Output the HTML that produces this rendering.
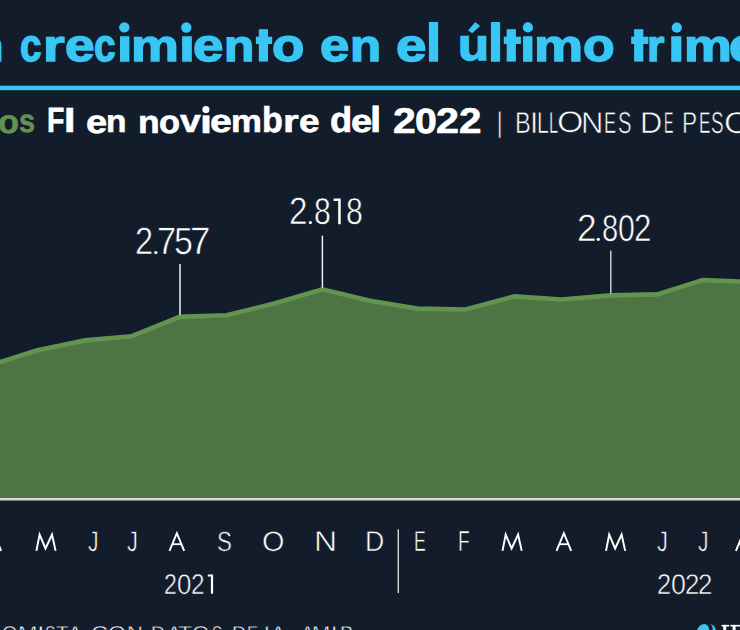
<!DOCTYPE html>
<html><head><meta charset="utf-8">
<style>
html,body{margin:0;padding:0;width:740px;height:630px;overflow:hidden;background:#121c2a;}
body{position:relative;font-family:"Liberation Sans",sans-serif;color:#fff;}
.a{position:absolute;white-space:nowrap;line-height:1;transform-origin:0 0;font-weight:400;text-rendering:geometricPrecision;}
svg{position:absolute;left:0;top:0;}
</style></head><body>
<svg width="740" height="630" viewBox="0 0 740 630">
<polygon fill="#4f7444" points="-11,365.6 36.5,350.5 85.1,340.4 131.8,336.2 179.7,316.9 226.5,315.3 275,303.3 322.3,289.3 370,300.8 417.3,308.6 465.3,309.5 514.3,296.4 561.6,299.5 610.7,295.4 657.3,294.4 702.7,280.1 750,281.8 750,498 -11,498"/>
<polyline fill="none" stroke="#62934f" stroke-width="4.6" stroke-linejoin="miter" points="-11,365.6 36.5,350.5 85.1,340.4 131.8,336.2 179.7,316.9 226.5,315.3 275,303.3 322.3,289.3 370,300.8 417.3,308.6 465.3,309.5 514.3,296.4 561.6,299.5 610.7,295.4 657.3,294.4 702.7,280.1 750,281.8"/>
<rect x="0" y="498" width="740" height="2.5" fill="#d9ddd9"/>
<rect x="0" y="85.7" width="740" height="4.5" fill="#38c6f4"/>
<rect x="179" y="264" width="2" height="51" fill="#b6bbc1"/>
<rect x="321.7" y="235.7" width="1.4" height="52" fill="#f6f6f6"/>
<rect x="610.1" y="250.6" width="1.4" height="43" fill="#d8d8d8"/>
<rect x="397.6" y="529.3" width="1.4" height="63.7" fill="#d8d8d8"/>
<circle cx="155.85" cy="252.6" r="1.65" fill="#fff"/>
<circle cx="310.4" cy="222.6" r="1.65" fill="#fff"/>
<circle cx="598.3" cy="239.3" r="1.65" fill="#fff"/>
<path d="M333.6,198.4 H340.7 V224.2 H338.2 V200.9 H333.6 Z" fill="#fff"/>
<path d="M207.8,574.5 H213.1 V593.8 H210.9 V576.6 H207.8 Z" fill="#fff"/>
<ellipse cx="702.8" cy="631.3" rx="5.8" ry="7.6" transform="rotate(30 702.8 631.3)" fill="#38c6f4"/>
<path d="M710.2,623.8 C714.3,625.3 716.2,628.3 715.6,631 L712.4,631 C713,628.3 712.4,625.6 710.2,623.8 Z" fill="#38c6f4"/>
<rect x="721.6" y="624.9" width="7.6" height="1.6" fill="#fff"/>
<rect x="723.2" y="624.9" width="3" height="6" fill="#fff"/>
<rect x="730.4" y="624.9" width="10" height="1.6" fill="#fff"/>
<rect x="732.6" y="624.9" width="3" height="6" fill="#fff"/>
<circle cx="124.3" cy="27.4" r="5.2" fill="#38c6f4"/>
<circle cx="186.3" cy="27.45" r="5.2" fill="#38c6f4"/>
<circle cx="527.9" cy="27.45" r="5.1" fill="#38c6f4"/>
<circle cx="676.8" cy="27.7" r="5.1" fill="#38c6f4"/>
<polygon points="468.1,30.4 475.2,22.05 480.1,25.9 472.2,33.2" fill="#38c6f4"/>
<circle cx="205.9" cy="109.6" r="3.55" fill="#fff"/>
<polyline fill="none" stroke="#fff" stroke-width="1.95" stroke-miterlimit="10" points="36.4,550.9 39.6,534.6 45.5,548.5 52.0,534.6 55.6,550.9"/>
<polyline fill="none" stroke="#fff" stroke-width="1.95" stroke-miterlimit="10" points="502.5,550.9 505.7,534.6 511.6,548.5 518.1,534.6 521.7,550.9"/>
<polyline fill="none" stroke="#fff" stroke-width="1.95" stroke-miterlimit="10" points="606.0,550.9 609.2,534.6 615.1,548.5 621.6,534.6 625.2,550.9"/>
<polyline fill="none" stroke="#fff" stroke-width="1.95" stroke-miterlimit="10" points="-13.50,550.90 -6.15,533.20 1.20,550.90"/>
<rect x="-10.70" y="543.3" width="9.1" height="1.8" fill="#fff"/>
<polyline fill="none" stroke="#fff" stroke-width="1.95" stroke-miterlimit="10" points="169.50,550.90 176.85,533.20 184.20,550.90"/>
<rect x="172.30" y="543.3" width="9.1" height="1.8" fill="#fff"/>
<polyline fill="none" stroke="#fff" stroke-width="1.95" stroke-miterlimit="10" points="556.50,550.90 563.85,533.20 571.20,550.90"/>
<rect x="559.30" y="543.3" width="9.1" height="1.8" fill="#fff"/>
<polyline fill="none" stroke="#fff" stroke-width="1.95" stroke-miterlimit="10" points="735.90,550.90 743.25,533.20 750.60,550.90"/>
<rect x="738.70" y="543.3" width="9.1" height="1.8" fill="#fff"/>
<rect x="258.8" y="29.2" width="9.2" height="32.4" fill="#38c6f4"/>
<rect x="255.9" y="36.7" width="16.3" height="7.3" fill="#38c6f4"/>
<rect x="506.7" y="29.2" width="9.2" height="32.4" fill="#38c6f4"/>
<rect x="503.8" y="36.7" width="17.1" height="7.3" fill="#38c6f4"/>
<rect x="634.1" y="29.2" width="9.2" height="32.4" fill="#38c6f4"/>
<rect x="631.2" y="36.7" width="17.1" height="7.3" fill="#38c6f4"/>
</svg>
<div class="a" id="t0" style="left:-26.79px;top:22.60px;font-size:47px;font-weight:700;color:#38c6f4;transform:scale(1.0698,0.9453);-webkit-text-stroke:1.5px #38c6f4;">n</div>
<div class="a" id="t1" style="left:20.42px;top:21.53px;font-size:47px;font-weight:700;color:#38c6f4;transform:scale(0.8189,0.9761);-webkit-text-stroke:1.5px #38c6f4;">c</div>
<div class="a" id="t2" style="left:42.67px;top:22.70px;font-size:47px;font-weight:700;color:#38c6f4;transform:scale(1.1867,0.9495);-webkit-text-stroke:1.5px #38c6f4;">r</div>
<div class="a" id="t3" style="left:64.66px;top:21.64px;font-size:47px;font-weight:700;color:#38c6f4;transform:scale(1.1323,0.9746);-webkit-text-stroke:1.5px #38c6f4;">e</div>
<div class="a" id="t4" style="left:94.46px;top:21.59px;font-size:47px;font-weight:700;color:#38c6f4;transform:scale(0.8244,0.9763);-webkit-text-stroke:1.5px #38c6f4;">c</div>
<div class="a" id="t5" style="left:116.63px;top:21.59px;font-size:47px;font-weight:700;color:#38c6f4;transform:scale(1.1777,0.9640);-webkit-text-stroke:1.5px #38c6f4;">ı</div>
<div class="a" id="t6" style="left:131.08px;top:22.77px;font-size:47px;font-weight:700;color:#38c6f4;transform:scale(1.1442,0.9496);-webkit-text-stroke:1.5px #38c6f4;">m</div>
<div class="a" id="t7" style="left:178.58px;top:21.78px;font-size:47px;font-weight:700;color:#38c6f4;transform:scale(1.2167,0.9649);-webkit-text-stroke:1.5px #38c6f4;">ı</div>
<div class="a" id="t8" style="left:192.85px;top:21.51px;font-size:47px;font-weight:700;color:#38c6f4;transform:scale(1.1614,0.9756);-webkit-text-stroke:1.5px #38c6f4;">e</div>
<div class="a" id="t9" style="left:224.19px;top:22.93px;font-size:47px;font-weight:700;color:#38c6f4;transform:scale(1.0539,0.9419);-webkit-text-stroke:1.5px #38c6f4;">n</div>
<div class="a" id="t11" style="left:272.26px;top:21.72px;font-size:47px;font-weight:700;color:#38c6f4;transform:scale(1.1251,0.9757);-webkit-text-stroke:1.5px #38c6f4;">o</div>
<div class="a" id="t12" style="left:319.79px;top:21.74px;font-size:47px;font-weight:700;color:#38c6f4;transform:scale(1.1196,0.9736);-webkit-text-stroke:1.5px #38c6f4;">e</div>
<div class="a" id="t13" style="left:349.81px;top:22.59px;font-size:47px;font-weight:700;color:#38c6f4;transform:scale(1.0854,0.9455);-webkit-text-stroke:1.5px #38c6f4;">n</div>
<div class="a" id="t14" style="left:396.38px;top:21.79px;font-size:47px;font-weight:700;color:#38c6f4;transform:scale(1.1620,0.9707);-webkit-text-stroke:1.5px #38c6f4;">e</div>
<div class="a" id="t15" style="left:426.13px;top:15.88px;font-size:47px;font-weight:700;color:#38c6f4;transform:scale(1.1533,1.1182);-webkit-text-stroke:1.5px #38c6f4;">l</div>
<div class="a" id="t16" style="left:457.74px;top:21.78px;font-size:47px;font-weight:700;color:#38c6f4;transform:scale(1.0807,0.9475);-webkit-text-stroke:1.5px #38c6f4;">u</div>
<div class="a" id="t17" style="left:487.99px;top:15.88px;font-size:47px;font-weight:700;color:#38c6f4;transform:scale(1.1549,1.1182);-webkit-text-stroke:1.5px #38c6f4;">l</div>
<div class="a" id="t19" style="left:520.02px;top:22.02px;font-size:47px;font-weight:700;color:#38c6f4;transform:scale(1.1784,0.9668);-webkit-text-stroke:1.5px #38c6f4;">ı</div>
<div class="a" id="t20" style="left:534.40px;top:22.63px;font-size:47px;font-weight:700;color:#38c6f4;transform:scale(1.1739,0.9476);-webkit-text-stroke:1.5px #38c6f4;">m</div>
<div class="a" id="t21" style="left:583.41px;top:21.51px;font-size:47px;font-weight:700;color:#38c6f4;transform:scale(1.1009,0.9771);-webkit-text-stroke:1.5px #38c6f4;">o</div>
<div class="a" id="t23" style="left:647.47px;top:22.51px;font-size:47px;font-weight:700;color:#38c6f4;transform:scale(0.9500,0.9473);-webkit-text-stroke:1.5px #38c6f4;">r</div>
<div class="a" id="t24" style="left:668.08px;top:21.78px;font-size:47px;font-weight:700;color:#38c6f4;transform:scale(1.2652,0.9649);-webkit-text-stroke:1.5px #38c6f4;">ı</div>
<div class="a" id="t25" style="left:684.02px;top:22.82px;font-size:47px;font-weight:700;color:#38c6f4;transform:scale(1.1440,0.9482);-webkit-text-stroke:1.5px #38c6f4;">m</div>
<div class="a" id="t26" style="left:729.43px;top:21.59px;font-size:47px;font-weight:700;color:#38c6f4;transform:scale(1.1436,0.9751);-webkit-text-stroke:1.5px #38c6f4;">e</div>
<div class="a" id="s0" style="left:-1.94px;top:105.58px;font-size:34px;font-weight:700;color:#62934f;transform:scale(1.0114,0.9627);-webkit-text-stroke:0.6px #62934f;">o</div>
<div class="a" id="s1" style="left:19.47px;top:105.41px;font-size:34px;font-weight:700;color:#62934f;transform:scale(0.8489,0.9571);-webkit-text-stroke:0.6px #62934f;">s</div>
<div class="a" id="s2" style="left:46.71px;top:103.44px;font-size:34px;font-weight:700;transform:scale(0.8371,1.0314);-webkit-text-stroke:0.6px #fff;">F</div>
<div class="a" id="s3" style="left:63.77px;top:103.49px;font-size:34px;font-weight:700;transform:scale(1.2190,1.0289);-webkit-text-stroke:0.6px #fff;">I</div>
<div class="a" id="s4" style="left:85.68px;top:105.65px;font-size:34px;font-weight:700;transform:scale(1.1203,0.9523);-webkit-text-stroke:0.6px #fff;">e</div>
<div class="a" id="s5" style="left:105.76px;top:106.45px;font-size:34px;font-weight:700;transform:scale(0.9854,0.9312);-webkit-text-stroke:0.6px #fff;">n</div>
<div class="a" id="s6" style="left:138.01px;top:106.57px;font-size:34px;font-weight:700;transform:scale(1.0423,0.9384);-webkit-text-stroke:0.6px #fff;">n</div>
<div class="a" id="s7" style="left:159.43px;top:106.07px;font-size:34px;font-weight:700;transform:scale(1.0120,0.9499);-webkit-text-stroke:0.6px #fff;">o</div>
<div class="a" id="s8" style="left:180.40px;top:105.60px;font-size:34px;font-weight:700;transform:scale(1.0978,0.9458);-webkit-text-stroke:0.6px #fff;">v</div>
<div class="a" id="s9" style="left:199.69px;top:106.18px;font-size:34px;font-weight:700;transform:scale(1.2704,0.9599);-webkit-text-stroke:0.6px #fff;">ı</div>
<div class="a" id="s10" style="left:209.98px;top:105.48px;font-size:34px;font-weight:700;transform:scale(1.1529,0.9475);-webkit-text-stroke:0.6px #fff;">e</div>
<div class="a" id="s11" style="left:230.96px;top:106.08px;font-size:34px;font-weight:700;transform:scale(1.0228,0.9337);-webkit-text-stroke:0.6px #fff;">m</div>
<div class="a" id="s12" style="left:261.57px;top:102.59px;font-size:34px;font-weight:700;transform:scale(1.0032,1.0513);-webkit-text-stroke:0.6px #fff;">b</div>
<div class="a" id="s13" style="left:282.57px;top:106.42px;font-size:34px;font-weight:700;transform:scale(1.1913,0.9319);-webkit-text-stroke:0.6px #fff;">r</div>
<div class="a" id="s14" style="left:298.84px;top:105.82px;font-size:34px;font-weight:700;transform:scale(1.0910,0.9459);-webkit-text-stroke:0.6px #fff;">e</div>
<div class="a" id="s15" style="left:330.12px;top:102.64px;font-size:34px;font-weight:700;transform:scale(1.0676,1.0506);-webkit-text-stroke:0.6px #fff;">d</div>
<div class="a" id="s16" style="left:351.17px;top:105.29px;font-size:34px;font-weight:700;transform:scale(1.1206,0.9469);-webkit-text-stroke:0.6px #fff;">e</div>
<div class="a" id="s17" style="left:369.76px;top:102.11px;font-size:34px;font-weight:700;transform:scale(1.1899,1.0631);-webkit-text-stroke:0.6px #fff;">l</div>
<div class="a" id="s18" style="left:392.91px;top:103.65px;font-size:34px;font-weight:700;transform:scale(1.2023,1.0529);-webkit-text-stroke:0.6px #fff;">2</div>
<div class="a" id="s19" style="left:414.94px;top:103.75px;font-size:34px;font-weight:700;transform:scale(1.1550,1.0256);-webkit-text-stroke:0.6px #fff;">0</div>
<div class="a" id="s20" style="left:436.13px;top:103.50px;font-size:34px;font-weight:700;transform:scale(1.2159,1.0500);-webkit-text-stroke:0.6px #fff;">2</div>
<div class="a" id="s21" style="left:458.73px;top:104.34px;font-size:34px;font-weight:700;transform:scale(1.1873,1.0499);-webkit-text-stroke:0.6px #fff;">2</div>
<div class="a" id="l0" style="left:496.51px;top:108.98px;font-size:30px;transform:scale(0.6981,0.9556);-webkit-text-stroke:0.6px #121c2a;">|</div>
<div class="a" id="m2" style="left:88.17px;top:528.15px;font-size:28px;transform:scale(0.7523,1.0198);-webkit-text-stroke:0.6px #121c2a;">J</div>
<div class="a" id="m3" style="left:127.21px;top:527.73px;font-size:28px;transform:scale(0.7747,1.0196);-webkit-text-stroke:0.6px #121c2a;">J</div>
<div class="a" id="m5" style="left:216.94px;top:527.59px;font-size:28px;transform:scale(0.7956,0.9931);-webkit-text-stroke:0.6px #121c2a;">S</div>
<div class="a" id="m6" style="left:262.19px;top:527.88px;font-size:28px;transform:scale(1.0321,0.9961);-webkit-text-stroke:0.6px #121c2a;">O</div>
<div class="a" id="m7" style="left:314.33px;top:527.22px;font-size:28px;transform:scale(1.1430,1.0316);-webkit-text-stroke:0.6px #121c2a;">N</div>
<div class="a" id="m8" style="left:365.30px;top:527.22px;font-size:28px;transform:scale(0.9517,1.0306);-webkit-text-stroke:0.6px #121c2a;">D</div>
<div class="a" id="m9" style="left:414.07px;top:527.01px;font-size:28px;transform:scale(0.6311,1.0300);-webkit-text-stroke:0.6px #121c2a;">E</div>
<div class="a" id="m10" style="left:457.95px;top:527.46px;font-size:28px;transform:scale(0.6806,1.0405);-webkit-text-stroke:0.6px #121c2a;">F</div>
<div class="a" id="m14" style="left:657.21px;top:527.73px;font-size:28px;transform:scale(0.7747,1.0196);-webkit-text-stroke:0.6px #121c2a;">J</div>
<div class="a" id="m15" style="left:698.11px;top:528.06px;font-size:28px;transform:scale(0.7466,1.0195);-webkit-text-stroke:0.6px #121c2a;">J</div>
<div class="a" id="f0" style="left:1.51px;top:623.50px;font-size:20px;transform:scale(0.9876,1.0000);-webkit-text-stroke:0.5px #121c2a;">O</div>
<div class="a" id="f1" style="left:17.85px;top:623.50px;font-size:20px;transform:scale(1.1725,1.0000);-webkit-text-stroke:0.5px #121c2a;">M</div>
<div class="a" id="f2" style="left:36.85px;top:623.50px;font-size:20px;transform:scale(1.3668,1.0000);-webkit-text-stroke:0.5px #121c2a;">I</div>
<div class="a" id="f3" style="left:45.12px;top:623.50px;font-size:20px;transform:scale(0.7812,1.0000);-webkit-text-stroke:0.5px #121c2a;">S</div>
<div class="a" id="f4" style="left:56.44px;top:623.50px;font-size:20px;transform:scale(1.0203,1.0000);-webkit-text-stroke:0.5px #121c2a;">T</div>
<div class="a" id="f5" style="left:68.37px;top:623.50px;font-size:20px;transform:scale(1.0564,1.0000);-webkit-text-stroke:0.5px #121c2a;">A</div>
<div class="a" id="f6" style="left:91.37px;top:623.50px;font-size:20px;transform:scale(1.1817,1.0000);-webkit-text-stroke:0.5px #121c2a;">C</div>
<div class="a" id="f7" style="left:107.99px;top:623.50px;font-size:20px;transform:scale(1.1578,1.0000);-webkit-text-stroke:0.5px #121c2a;">O</div>
<div class="a" id="f8" style="left:126.86px;top:623.50px;font-size:20px;transform:scale(1.0959,1.0000);-webkit-text-stroke:0.5px #121c2a;">N</div>
<div class="a" id="f9" style="left:151.08px;top:623.50px;font-size:20px;transform:scale(0.9788,1.0000);-webkit-text-stroke:0.5px #121c2a;">D</div>
<div class="a" id="f10" style="left:167.40px;top:623.50px;font-size:20px;transform:scale(1.0679,1.0000);-webkit-text-stroke:0.5px #121c2a;">A</div>
<div class="a" id="f11" style="left:178.08px;top:623.50px;font-size:20px;transform:scale(1.1652,1.0000);-webkit-text-stroke:0.5px #121c2a;">T</div>
<div class="a" id="f12" style="left:192.08px;top:623.50px;font-size:20px;transform:scale(1.1152,1.0000);-webkit-text-stroke:0.5px #121c2a;">O</div>
<div class="a" id="f13" style="left:212.10px;top:623.50px;font-size:20px;transform:scale(0.7614,1.0000);-webkit-text-stroke:0.5px #121c2a;">S</div>
<div class="a" id="f14" style="left:231.87px;top:623.50px;font-size:20px;transform:scale(0.9928,1.0000);-webkit-text-stroke:0.5px #121c2a;">D</div>
<div class="a" id="f15" style="left:246.60px;top:623.50px;font-size:20px;transform:scale(0.8312,1.0000);-webkit-text-stroke:0.5px #121c2a;">E</div>
<div class="a" id="f16" style="left:264.16px;top:623.50px;font-size:20px;transform:scale(1.0979,1.0000);-webkit-text-stroke:0.5px #121c2a;">L</div>
<div class="a" id="f17" style="left:271.36px;top:623.50px;font-size:20px;transform:scale(1.0673,1.0000);-webkit-text-stroke:0.5px #121c2a;">A</div>
<div class="a" id="f18" style="left:300.70px;top:623.50px;font-size:20px;-webkit-text-stroke:0.5px #121c2a;">A</div>
<div class="a" id="f19" style="left:311.85px;top:623.50px;font-size:20px;transform:scale(1.0963,1.0000);-webkit-text-stroke:0.5px #121c2a;">M</div>
<div class="a" id="f20" style="left:331.21px;top:623.50px;font-size:20px;transform:scale(1.1428,1.0000);-webkit-text-stroke:0.5px #121c2a;">I</div>
<div class="a" id="f21" style="left:339.77px;top:623.50px;font-size:20px;transform:scale(1.0042,1.0000);-webkit-text-stroke:0.5px #121c2a;">B</div>
<div class="a" id="l1" style="left:515.21px;top:107.54px;font-size:28px;transform:scale(0.8455,1.0784);-webkit-text-stroke:0.6px #121c2a;">B</div>
<div class="a" id="l2" style="left:529.60px;top:107.60px;font-size:28px;transform:scale(1.0560,1.0757);-webkit-text-stroke:0.6px #121c2a;">I</div>
<div class="a" id="l3" style="left:537.48px;top:107.62px;font-size:28px;transform:scale(0.7600,1.0846);-webkit-text-stroke:0.6px #121c2a;">L</div>
<div class="a" id="l4" style="left:549.33px;top:107.86px;font-size:28px;transform:scale(0.5858,1.0851);-webkit-text-stroke:0.6px #121c2a;">L</div>
<div class="a" id="l5" style="left:557.05px;top:107.65px;font-size:28px;transform:scale(1.2121,1.0630);-webkit-text-stroke:0.6px #121c2a;">O</div>
<div class="a" id="l6" style="left:581.34px;top:107.63px;font-size:28px;transform:scale(1.1079,1.0748);-webkit-text-stroke:0.6px #121c2a;">N</div>
<div class="a" id="l7" style="left:604.28px;top:107.64px;font-size:28px;transform:scale(0.6470,1.0794);-webkit-text-stroke:0.6px #121c2a;">E</div>
<div class="a" id="l8" style="left:617.80px;top:107.82px;font-size:28px;transform:scale(0.7241,1.0837);-webkit-text-stroke:0.6px #121c2a;">S</div>
<div class="a" id="l9" style="left:640.08px;top:107.54px;font-size:28px;transform:scale(1.0995,1.0784);-webkit-text-stroke:0.6px #121c2a;">D</div>
<div class="a" id="l10" style="left:663.99px;top:107.74px;font-size:28px;transform:scale(0.5033,1.0768);-webkit-text-stroke:0.6px #121c2a;">E</div>
<div class="a" id="l11" style="left:682.37px;top:107.55px;font-size:28px;transform:scale(0.8083,1.0796);-webkit-text-stroke:0.6px #121c2a;">P</div>
<div class="a" id="l12" style="left:698.61px;top:107.80px;font-size:28px;transform:scale(0.6163,1.0775);-webkit-text-stroke:0.6px #121c2a;">E</div>
<div class="a" id="l13" style="left:711.09px;top:107.88px;font-size:28px;transform:scale(0.6755,1.0827);-webkit-text-stroke:0.6px #121c2a;">S</div>
<div class="a" id="l14" style="left:724.39px;top:107.51px;font-size:28px;transform:scale(1.2081,1.0768);-webkit-text-stroke:0.6px #121c2a;">O</div>
<div class="a" id="na0" style="left:134.58px;top:222.20px;font-size:36px;transform:scale(0.9033,1.0612);-webkit-text-stroke:0.6px #121c2a;">2</div>
<div class="a" id="na1" style="left:157.20px;top:222.21px;font-size:36px;transform:scale(0.9581,1.0637);-webkit-text-stroke:0.6px #121c2a;">7</div>
<div class="a" id="na2" style="left:173.81px;top:222.25px;font-size:36px;transform:scale(0.9413,1.0543);-webkit-text-stroke:0.6px #121c2a;">5</div>
<div class="a" id="na3" style="left:190.06px;top:222.23px;font-size:36px;transform:scale(1.0265,1.0761);-webkit-text-stroke:0.6px #121c2a;">7</div>
<div class="a" id="nb0" style="left:288.93px;top:192.33px;font-size:36px;transform:scale(0.9247,1.0611);-webkit-text-stroke:0.6px #121c2a;">2</div>
<div class="a" id="nb1" style="left:314.17px;top:193.17px;font-size:36px;transform:scale(0.8384,1.0324);-webkit-text-stroke:0.6px #121c2a;">8</div>
<div class="a" id="nb2" style="left:346.00px;top:193.10px;font-size:36px;transform:scale(0.8385,1.0377);-webkit-text-stroke:0.6px #121c2a;">8</div>
<div class="a" id="nc0" style="left:577.17px;top:209.03px;font-size:36px;transform:scale(0.9815,1.0605);-webkit-text-stroke:0.6px #121c2a;">2</div>
<div class="a" id="nc1" style="left:601.58px;top:209.83px;font-size:36px;transform:scale(0.8091,1.0404);-webkit-text-stroke:0.6px #121c2a;">8</div>
<div class="a" id="nc2" style="left:618.48px;top:209.92px;font-size:36px;transform:scale(0.8403,1.0400);-webkit-text-stroke:0.6px #121c2a;">0</div>
<div class="a" id="nc3" style="left:634.03px;top:209.09px;font-size:36px;transform:scale(0.8685,1.0614);-webkit-text-stroke:0.6px #121c2a;">2</div>
<div class="a" id="ya0" style="left:164.18px;top:571.12px;font-size:25px;transform:scale(0.9264,1.1481);-webkit-text-stroke:0.5px #121c2a;">2</div>
<div class="a" id="ya1" style="left:176.71px;top:570.62px;font-size:25px;transform:scale(1.0356,1.1323);-webkit-text-stroke:0.5px #121c2a;">0</div>
<div class="a" id="ya2" style="left:190.67px;top:571.36px;font-size:25px;transform:scale(0.9788,1.1455);-webkit-text-stroke:0.5px #121c2a;">2</div>
<div class="a" id="yb0" style="left:657.11px;top:571.33px;font-size:25px;transform:scale(1.0165,1.1530);-webkit-text-stroke:0.5px #121c2a;">2</div>
<div class="a" id="yb1" style="left:670.80px;top:570.82px;font-size:25px;transform:scale(1.0725,1.1312);-webkit-text-stroke:0.5px #121c2a;">0</div>
<div class="a" id="yb2" style="left:684.83px;top:571.42px;font-size:25px;transform:scale(1.0338,1.1407);-webkit-text-stroke:0.5px #121c2a;">2</div>
<div class="a" id="yb3" style="left:697.88px;top:571.40px;font-size:25px;transform:scale(1.0334,1.1410);-webkit-text-stroke:0.5px #121c2a;">2</div>
</body></html>
